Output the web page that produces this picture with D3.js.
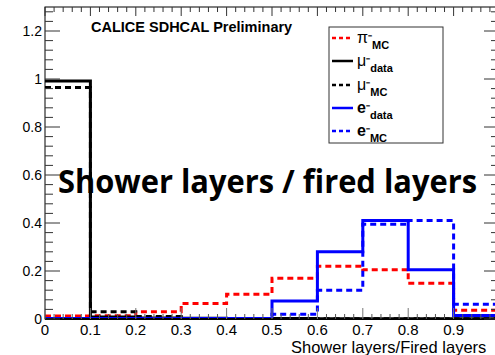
<!DOCTYPE html>
<html><head><meta charset="utf-8">
<script src="https://cdn.jsdelivr.net/npm/d3@7"></script>
<style>body{margin:0;background:#fff}svg{display:block}</style>
</head><body>
<svg id="c" width="495" height="355"></svg>
<script>
const binEdges = [0,0.1,0.2,0.3,0.4,0.5,0.6,0.7,0.8,0.9,1.0];
const piMC    = [0.013,0.014,0.030,0.065,0.103,0.170,0.220,0.205,0.149,0.036];
const muData  = [0.992,0.008,0.004,0.003,0.002,0.002,0.001,0.001,0.001,0.001];
const muMC    = [0.965,0.030,0.010,0.002,0.001,0.001,0.001,0.001,0.001,0.001];
const eData   = [0.002,0.002,0.002,0.002,0.002,0.075,0.280,0.410,0.205,0.015];
const eMC     = [0.000,0.000,0.000,0.001,0.001,0.020,0.120,0.395,0.410,0.061];
const xTicks = [0,0.1,0.2,0.3,0.4,0.5,0.6,0.7,0.8,0.9];
const yTicks = [0,0.2,0.4,0.6,0.8,1,1.2];

const svg = d3.select("#c");
const x = d3.scaleLinear().domain([0,1]).range([45,499]);
const y = d3.scaleLinear().domain([0,1.3]).range([319,7]);
const fontA = "'Liberation Sans', Arial, sans-serif";

svg.append("defs").append("clipPath").attr("id","clip")
  .append("rect").attr("x",x(0)).attr("y",y(1.3)).attr("width",x(1)-x(0)).attr("height",y(0)-y(1.3));

// Histograms
const series = [
  {vals: piMC,   color:"#ff0000", dash:"6,4"},
  {vals: muMC,   color:"#000000", dash:"6,4"},
  {vals: muData, color:"#000000", dash:null},
  {vals: eMC,    color:"#0000ff", dash:"6,4"},
  {vals: eData,  color:"#0000ff", dash:null}
];
function stepPath(vals){
  let pts = [];
  vals.forEach((v,i)=>{ pts.push([x(binEdges[i]),y(v)]); pts.push([x(binEdges[i+1]),y(v)]); });
  return d3.line()(pts);
}
const g = svg.append("g").attr("clip-path","url(#clip)");
series.forEach(s=>{
  g.append("path").attr("d",stepPath(s.vals)).attr("fill","none")
   .attr("stroke",s.color).attr("stroke-width",3)
   .attr("stroke-dasharray",s.dash);
});

// Frame
const frame = svg.append("g");
frame.append("rect").attr("x",x(0)).attr("y",y(1.3)).attr("width",x(1)-x(0)).attr("height",y(0)-y(1.3))
  .attr("fill","none").attr("stroke","#000").attr("stroke-width",1);
frame.append("line").attr("x1",x(0)).attr("x2",x(1)).attr("y1",y(0)).attr("y2",y(0)).attr("stroke","#000").attr("stroke-width",2);

// X ticks (bottom & top)
const xMinor = d3.range(0,1.0001,0.02);
xMinor.forEach(v=>{
  const major = Math.abs(Math.round(v*10)-v*10)<1e-6;
  frame.append("line").attr("x1",x(v)).attr("x2",x(v)).attr("y1",y(0)).attr("y2",y(0)-(major?11:5))
    .attr("stroke",major?"#777":"#555").attr("stroke-width",1);
  frame.append("line").attr("x1",x(v)).attr("x2",x(v)).attr("y1",y(1.3)).attr("y2",y(1.3)+(major?9:5))
    .attr("stroke","#333").attr("stroke-width",1);
});
// Y ticks
const yMinor = d3.range(0,1.3001,0.04);
yMinor.forEach(v=>{
  const major = Math.abs(Math.round(v*5)-v*5)<1e-6;
  frame.append("line").attr("x1",x(0)).attr("x2",x(0)+(major?15:8)).attr("y1",y(v)).attr("y2",y(v))
    .attr("stroke","#333").attr("stroke-width",1);
  frame.append("line").attr("x1",x(1)).attr("x2",x(1)-(major?15:8)).attr("y1",y(v)).attr("y2",y(v))
    .attr("stroke","#333").attr("stroke-width",1);
});

// Tick labels
svg.append("g").selectAll("text").data(xTicks).join("text")
  .attr("x",d=>x(d)).attr("y",y(0)+16).attr("text-anchor","middle")
  .attr("font-family",fontA).attr("font-size",15).attr("fill","#000")
  .text(d=>d3.format("")(d));
svg.append("g").selectAll("text").data(yTicks).join("text")
  .attr("x",42).attr("y",d=>y(d)+5).attr("text-anchor","end")
  .attr("font-family",fontA).attr("font-size",14).attr("fill","#000")
  .text(d=>d3.format("")(d));

// Axis title
svg.append("text").attr("x",291).attr("y",353).attr("text-anchor","start")
  .attr("font-family",fontA).attr("font-size",16.5).attr("fill","#000").text("Shower layers/Fired layers");

// CALICE label
svg.append("text").attr("x",91).attr("y",32).attr("font-family",fontA).attr("font-weight","bold")
  .attr("font-size",14.5).attr("fill","#000").text("CALICE SDHCAL Preliminary");

// Legend
const lg = svg.append("g");
lg.append("rect").attr("x",329).attr("y",27).attr("width",114).attr("height",116)
  .attr("fill","#fff").attr("stroke","#333").attr("stroke-width",1);
const legendItems = [
  {base:"π", sup:"⁻", sub:"MC", color:"#ff0000", dash:"4,3", ly:38, bold:false},
  {base:"μ", sup:"⁻", sub:"data", color:"#000", dash:null, ly:61, bold:false},
  {base:"μ", sup:"⁻", sub:"MC", color:"#000", dash:"4,3", ly:85, bold:false},
  {base:"e", sup:"⁻", sub:"data", color:"#0000ff", dash:null, ly:108, bold:true},
  {base:"e", sup:"⁻", sub:"MC", color:"#0000ff", dash:"4,3", ly:131, bold:true}
];
legendItems.forEach(it=>{
  lg.append("line").attr("x1",332).attr("x2",353).attr("y1",it.ly).attr("y2",it.ly)
    .attr("stroke",it.color).attr("stroke-width",2.5).attr("stroke-dasharray",it.dash);
  const bt = lg.append("text").attr("x",357).attr("y",it.ly+5).attr("font-family",fontA).attr("fill","#000")
    .attr("font-size",16).attr("font-weight",it.bold?"bold":"normal");
  bt.append("tspan").text(it.base);
  bt.append("tspan").attr("font-size",12).attr("font-weight","bold").text(it.sup);
  const w = bt.node().getComputedTextLength();
  lg.append("text").attr("x",357+w).attr("y",it.ly+11).attr("font-family",fontA).attr("fill","#000")
    .attr("font-size",11).attr("font-weight","bold").text(it.sub);
});

// Big overlay text
svg.append("text").attr("x",58).attr("y",193)
  .attr("font-family","'Open Sans', sans-serif").attr("font-weight","bold")
  .attr("font-size",32).attr("fill","#000")
  .attr("textLength",419).attr("lengthAdjust","spacingAndGlyphs")
  .text("Shower layers / fired layers");
</script>
</body></html>
